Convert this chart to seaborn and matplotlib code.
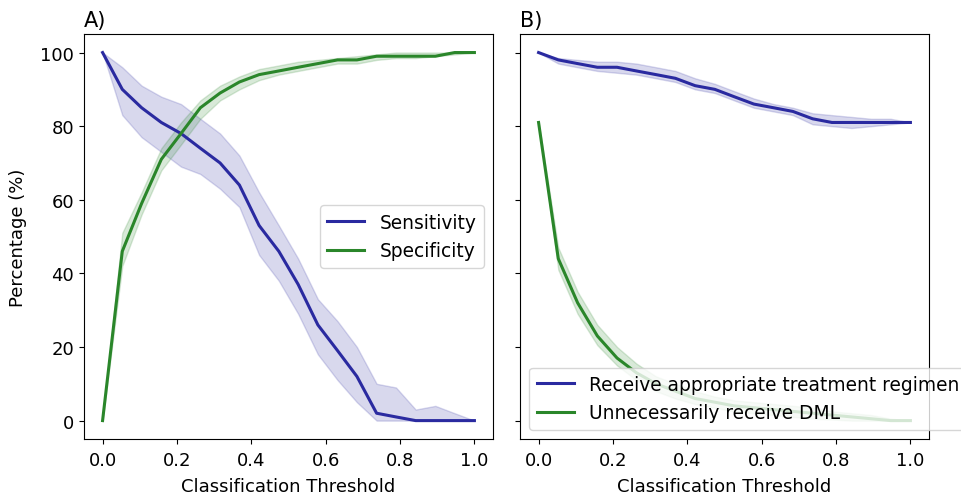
import matplotlib
matplotlib.use('Agg')
import matplotlib.pyplot as plt
import numpy as np
import pandas as pd
import seaborn as sns

thresholds = [0.0, 0.053, 0.105, 0.158, 0.211, 0.263, 0.316, 0.368, 0.421, 0.474,
              0.526, 0.579, 0.632, 0.684, 0.737, 0.789, 0.842, 0.895, 0.947, 1.0]

sensitivity = [100, 90, 85, 81, 78, 74, 70, 64, 53, 46, 37, 26, 19, 12, 2, 1, 0, 0, 0, 0]
sensitivity_lo = [100, 83, 77, 73, 69, 67, 63, 58, 45, 38, 29, 18, 11, 5, 0, 0, 0, 0, 0, 0]
sensitivity_hi = [100, 96, 91, 88, 86, 82, 78, 72, 62, 53, 44, 33, 27, 20, 10, 9, 3, 4, 2, 0]

specificity = [0, 46, 59, 71, 78, 85, 89, 92, 94, 95, 96, 97, 98, 98, 99, 99, 99, 99, 100, 100]
specificity_lo = [0, 42, 56, 68, 75, 82, 87, 90, 92.5, 94, 95, 96, 97, 97, 98, 98.5, 98.5, 99, 99.5, 100]
specificity_hi = [0, 51, 62, 74, 81, 87, 91, 93.5, 95.5, 96.5, 97.5, 98, 98.5, 99, 99.5, 100, 100, 100, 100, 100]

appropriate = [100, 98, 97, 96, 96, 95, 94, 93, 91, 90, 88, 86, 85, 84, 82, 81, 81, 81, 81, 81]
appropriate_lo = [100, 97, 96, 95, 94.5, 94, 93, 92, 90, 89, 87, 85, 84, 83, 80.5, 80, 79.5, 80, 80.5, 81]
appropriate_hi = [100, 98.5, 98, 97.5, 97.5, 97, 96, 95, 93, 91.5, 89.5, 87.5, 86, 85, 83.5, 83, 82.5, 82, 82, 81]

unnecessary = [81, 44, 32, 23, 17, 13, 10, 8, 6, 5, 4, 3.5, 3, 2.5, 2, 1.5, 1, 0.5, 0, 0]
unnecessary_lo = [81, 41, 29, 20.5, 15, 11, 8, 6, 4.5, 3.5, 2.5, 2, 1.5, 1, 0.5, 0.3, 0, 0, 0, 0]
unnecessary_hi = [81, 47, 35, 26, 20, 15.5, 12, 10, 8, 6.5, 5.5, 5, 4.5, 4, 3.5, 2.5, 2, 1.5, 0.5, 0]

BLUE = '#2a2aa0'
GREEN = '#2a862a'


def plot_series(ax, y, lo, hi, color, label):
    sns.lineplot(x=thresholds, y=y, ax=ax, color=color, linewidth=2.2, label=label)
    ax.fill_between(thresholds, lo, hi, color=color, alpha=0.18, linewidth=1)


def main():
    plt.rcParams['font.family'] = ['DejaVu Sans']
    plt.rcParams['font.size'] = 13
    plt.rcParams['xtick.major.pad'] = 5
    fig, axes = plt.subplots(1, 2, sharey=True, figsize=(9.61, 5.02), dpi=100)
    fig.subplots_adjust(left=0.0874, right=0.9667, top=0.930, bottom=0.1235, wspace=0.066)

    ax = axes[0]
    plot_series(ax, sensitivity, sensitivity_lo, sensitivity_hi, BLUE, 'Sensitivity')
    plot_series(ax, specificity, specificity_lo, specificity_hi, GREEN, 'Specificity')
    ax.set_title('A)', loc='left', fontsize=15)
    ax.set_xlabel('Classification Threshold', labelpad=6)
    ax.set_ylabel('Percentage (%)', labelpad=10)
    ax.legend(loc='center right', fontsize=13.4)

    ax = axes[1]
    plot_series(ax, appropriate, appropriate_lo, appropriate_hi, BLUE,
                'Receive appropriate treatment regimen')
    plot_series(ax, unnecessary, unnecessary_lo, unnecessary_hi, GREEN,
                'Unnecessarily receive DML')
    ax.set_title('B)', loc='left', fontsize=15)
    ax.set_xlabel('Classification Threshold', labelpad=6)
    ax.legend(loc='lower left', fontsize=13.4)

    for ax in axes:
        ax.set_xticks([0.0, 0.2, 0.4, 0.6, 0.8, 1.0])
        ax.set_yticks([0, 20, 40, 60, 80, 100])

    fig.savefig('out.png', dpi=100)


if __name__ == '__main__':
    main()
